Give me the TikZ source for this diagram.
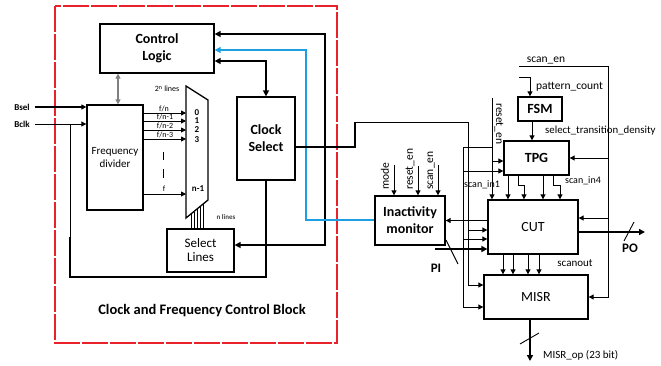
\documentclass[tikz,border=0pt]{standalone}
\usepackage{fontspec}
\setmainfont{Carlito}
\usetikzlibrary{arrows.meta}
\definecolor{framered}{RGB}{234,32,42}
\definecolor{wireblue}{RGB}{28,160,226}
\tikzset{
  blk/.style={draw, line width=1.3pt, inner sep=0pt, align=center, font=\fontsize{14}{17}\selectfont},
  blkb/.style={blk, font=\fontsize{14}{17}\selectfont\bfseries},
  wire/.style={line width=0.9pt, >={Triangle[length=5pt,width=5pt]}},
  bus/.style={line width=2.6pt, >={Triangle[length=6pt,width=6pt]}},
  lbl/.style={inner sep=1pt, font=\fontsize{11.5}{13}\selectfont},
  lblb/.style={inner sep=1pt, font=\fontsize{13}{15}\selectfont\bfseries},
  tiny/.style={inner sep=0.5pt, font=\fontsize{8}{9}\selectfont}
}
\begin{document}
\begin{tikzpicture}[x=1pt, y=-1pt]
\useasboundingbox (0,0) rectangle (661,365);
% clock and frequency control block
\draw[framered, line width=2.2pt, dash pattern=on 26pt off 2pt] (55,6) rectangle (337,343);
\node[blkb, minimum width=114pt, minimum height=49pt] (ctrl) at (157,48.5) {Control\\Logic};
\node[blk, font=\fontsize{11}{13.5}\selectfont, minimum width=56pt, minimum height=105pt] (freq) at (115,157.5) {Frequency\\divider};
\node[blkb, minimum width=58pt, minimum height=83pt] (clksel) at (266,138.5) {Clock\\Select};
\node[blk, font=\fontsize{13}{14}\selectfont, minimum width=67pt, minimum height=43pt] (sel) at (200.5,250.5) {Select\\Lines};
\node[font=\fontsize{14.5}{16}\selectfont\bfseries] (cfcb) at (202,311) {Clock and Frequency Control Block};
% test side
\node[blkb, minimum width=70pt, minimum height=49pt] (inact) at (410,220.5) {Inactivity\\monitor};
\node[blkb, minimum width=44pt, minimum height=24pt] (fsm) at (540,109) {FSM};
\node[blkb, minimum width=65pt, minimum height=34pt] (tpg) at (536.5,158) {TPG};
\node[blk, minimum width=90pt, minimum height=54pt] (cut) at (533,227) {CUT};
\node[blk, minimum width=104pt, minimum height=44pt] (misr) at (536,297) {MISR};
% multiplexer
\coordinate (mux-nw) at (186,86);
\coordinate (mux-ne) at (208,100);
\coordinate (mux-se) at (208,200);
\coordinate (mux-sw) at (186,218);
\draw[line width=1.3pt] (mux-nw) -- (mux-ne) -- (mux-se) -- (mux-sw) -- cycle;
\node[tiny, font=\fontsize{9}{10}\selectfont\bfseries] (d0) at (197,113) {0};
\node[tiny, font=\fontsize{9}{10}\selectfont\bfseries] (d1) at (197,121) {1};
\node[tiny, font=\fontsize{9}{10}\selectfont\bfseries] (d2) at (197,130) {2};
\node[tiny, font=\fontsize{9}{10}\selectfont\bfseries] (d3) at (197,140) {3};
\node[tiny, font=\fontsize{9}{10}\selectfont\bfseries] (dn) at (198,189) {n-1};
\node[tiny] (lines2n) at (167,89) {2\textsuperscript{n} lines};
\node[tiny, font=\fontsize{7}{8}\selectfont\bfseries, text=black!75] (linesn) at (226,217) {n lines};
% divider outputs
\draw[wire,->] (freq.east |- 0,113) -- (mux-nw |- 0,113);
\draw[wire,->] (freq.east |- 0,121) -- (mux-nw |- 0,121);
\draw[wire,->] (freq.east |- 0,130) -- (mux-nw |- 0,130);
\draw[wire,->] (freq.east |- 0,139) -- (mux-nw |- 0,139);
\draw[wire,->] (freq.east |- 0,194) -- (mux-nw |- 0,194);
\node[tiny] (fn0) at (164,109) {f/n};
\node[tiny] (fn1) at (165,117) {f/n-1};
\node[tiny] (fn2) at (165,126) {f/n-2};
\node[tiny] (fn3) at (165,135) {f/n-3};
\node[tiny] (fn) at (164,189) {f};
\draw[wire] (163,152) -- (163,160);
\draw[wire] (163,169) -- (163,178);
% select lines bus
\draw[line width=0.5pt] (191,213.9) -- (191,229);
\draw[line width=0.5pt] (194,211.5) -- (194,229);
\draw[line width=0.5pt] (197,209) -- (197,229);
\draw[line width=0.5pt] (200,206.5) -- (200,229);
\draw[line width=0.5pt] (203,204) -- (203,229);
% inputs
\node[inner sep=1pt, font=\fontsize{9}{10}\selectfont\bfseries] (bsel) at (22,107) {Bsel};
\node[inner sep=1pt, font=\fontsize{9}{10}\selectfont\bfseries] (bclk) at (22,124) {Bclk};
\draw[wire, line width=1.6pt, ->] ([xshift=4pt]bsel.east) -- (bsel -| freq.west);
\draw[wire,->] ([xshift=4pt]bclk.east) -- (bclk -| freq.west);
\draw[wire, gray, line width=1.2pt, <->] ([xshift=3pt]freq.north) -- ([xshift=3pt]freq.north |- ctrl.south);
% feedback of clock select
\coordinate (fb-a) at (70,277);
\coordinate (fb-b) at (70,237);
\draw[bus] (clksel.south) -- (clksel.south |- fb-a) -- (fb-a) -- (fb-b);
\draw[wire] (fb-b) -- (fb-b |- bclk);
% lines to control logic
\coordinate (rt) at (325,34);
\coordinate (rb) at (325,245);
\draw[bus,<->] (rt -| ctrl.east) -- (rt) -- (rb) -- (rb -| sel.east);
\coordinate (bt) at (306,50);
\coordinate (bb) at (306,220);
\draw[bus, wireblue, <-] (bt -| ctrl.east) -- (bt) -- (bb) -- (bb -| inact.west);
\coordinate (mt) at (266,61);
\draw[bus,<->] (mt -| ctrl.east) -- (mt) -- (clksel.north);
% inactivity monitor inputs
\coordinate (in-mode) at (394,165);
\coordinate (in-rst) at (418,166);
\coordinate (in-scan) at (438,165);
\draw[wire,->] (in-mode) -- (in-mode |- inact.north);
\draw[wire,->] (in-rst) -- (in-rst |- inact.north);
\draw[wire,->] (in-scan) -- (in-scan |- inact.north);
\node[lbl, rotate=90, anchor=west] (mode) at (385,191) {mode};
\node[lbl, rotate=90, anchor=west] (rsten) at (410,191) {reset\_en};
\node[lbl, rotate=90, anchor=west] (scanen1) at (431,191) {scan\_en};
% clock select output
\coordinate (ck-a) at (355,147);
\coordinate (ck-b) at (355,122);
\coordinate (ck-c) at (468,122);
\coordinate (ck-d) at (468,285);
\draw[bus] (ck-a -| clksel.east) -- (ck-a) -- (ck-b);
\draw[wire,->] (ck-b) -- (ck-c) -- (ck-d) -- (ck-d -| misr.west);
\draw[wire,->] (ck-c |- 0,230) -- (cut.west |- 0,230);
% reset and scan lines
\coordinate (rs-top) at (492,98);
\draw[wire,->] (rs-top) -- (rs-top |- cut.north);
\draw[wire,->] (rs-top |- 0,161) -- (tpg.west |- 0,161);
\node[lbl, rotate=-90, anchor=west] (rsten2) at (499,102) {reset\_en};
\coordinate (sc-a) at (463,147);
\coordinate (sc-b) at (463,307);
\draw[wire,->] (rs-top |- sc-a) -- (sc-a) -- (sc-b) -- (sc-b -| misr.west);
\draw[wire,->] (sc-a |- 0,171) -- (tpg.west |- 0,171);
\draw[wire,->] (sc-a |- 0,239) -- (cut.west |- 0,239);
\draw[wire,->] (cut.west |- inact.east) -- (inact.east);
\node[lbl, font=\fontsize{10}{11}\selectfont] (scanin1) at (482,185) {scan\_in1};
% primary input
\coordinate (pi-in) at (435,249);
\draw[bus, line width=1.8pt, ->] (pi-in) -- (pi-in -| cut.west);
\draw[wire] (446,240) -- (458,264);
\node[lblb] (pi) at (436,268) {PI};
% scan_en and pattern_count
\coordinate (se-a) at (519,66);
\coordinate (se-b) at (608,66);
\draw[wire,->] (se-a) -- (se-b) -- (se-b |- misr.east) -- (misr.east);
\draw[wire,->] (se-b |- tpg.east) -- (tpg.east);
\draw[wire,->] (se-b |- 0,218) -- (cut.east |- 0,218);
\node[lbl, anchor=south] (scanen) at (546,65) {scan\_en};
\coordinate (pc-a) at (519,77);
\coordinate (pc-b) at (530,77);
\draw[wire,->] (pc-a) -- (pc-b) -- (pc-b |- fsm.north);
\node[lbl, anchor=west] (pcount) at (535,87) {pattern\_count};
\draw[wire,->] (fsm.south -| 532,0) -- (tpg.north -| 532,0);
\node[lbl, anchor=west, font=\fontsize{10.8}{12}\selectfont] (std) at (544,131) {select\_transition\_density};
% scan chains into CUT
\draw[wire,->] (508,0 |- tpg.south) -- (508,0 |- cut.north);
\draw[wire,->] (518,0 |- tpg.south) -- (518,185) -| (524,0 |- cut.north);
\draw[wire,->] (543,0 |- tpg.south) -- (543,0 |- cut.north);
\draw[wire,->] (553,0 |- tpg.south) -- (553,185) -| (560,0 |- cut.north);
\node[lbl, font=\fontsize{10}{11}\selectfont] (scanin4) at (583,181) {scan\_in4};
% scan outs into MISR
\draw[wire,->] (503,0 |- cut.south) -- (503,0 |- misr.north);
\draw[wire,->] (513,0 |- cut.south) -- (513,0 |- misr.north);
\draw[wire,->] (528,0 |- cut.south) -- (528,0 |- misr.north);
\draw[wire,->] (539,0 |- cut.south) -- (539,0 |- misr.north);
\node[lbl, font=\fontsize{11}{12}\selectfont] (scanout) at (575,263) {scanout};
% outputs
\coordinate (po) at (645,232);
\draw[bus,->] (cut.east |- po) -- (po);
\draw[wire] (624,241) -- (634,222);
\node[lblb] (polbl) at (630,248) {PO};
\coordinate (mo) at (530,361);
\draw[bus,->] (misr.south -| mo) -- (mo);
\draw[wire] (520,344) -- (539,333);
\node[lbl, anchor=west, font=\fontsize{11}{12}\selectfont] (misrop) at (542,355) {MISR\_op (23 bit)};
\end{tikzpicture}
\end{document}
